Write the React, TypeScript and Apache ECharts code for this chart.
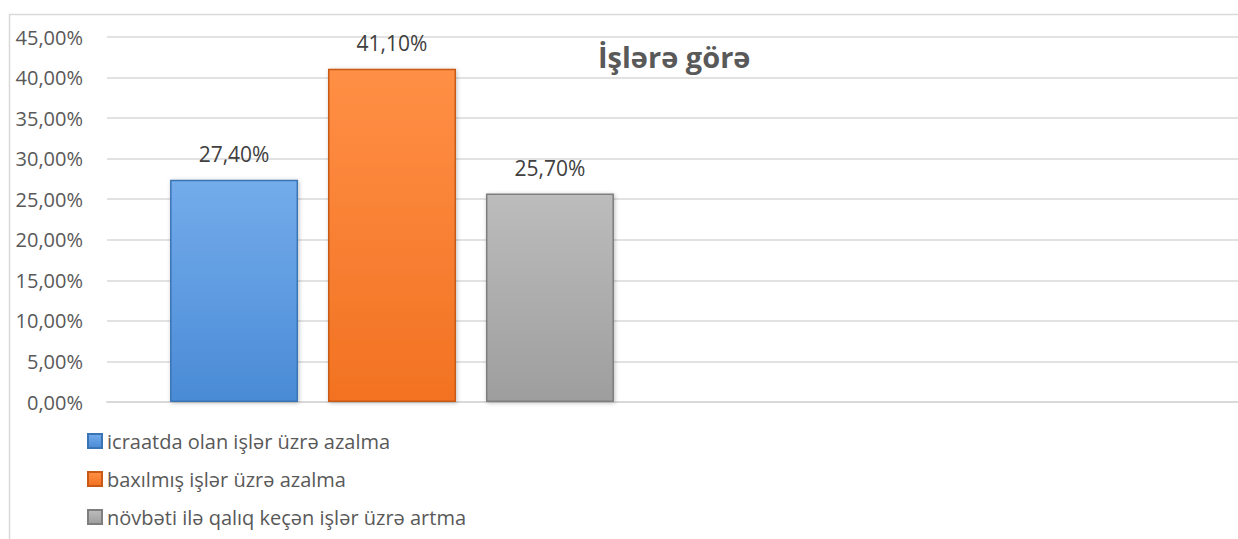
import React, { useEffect, useRef } from "react";
import * as echarts from "echarts";

const categories = ["", ""];
const seriesNames = [
  "icraatda olan işlər üzrə azalma",
  "baxılmış işlər üzrə azalma",
  "növbəti ilə qalıq keçən işlər üzrə artma",
];
const seriesValues = [27.4, 41.1, 25.7];
const yTicks = { min: 0, max: 45, interval: 5 };
const title = "İşlərə görə";

const palettes = [
  { top: "#74aceb", bottom: "#4a8bd6", border: "#3b74b4" },
  { top: "#ff8f45", bottom: "#f27222", border: "#c95a15" },
  { top: "#bcbcbc", bottom: "#9e9e9e", border: "#7e7e7e" },
];

const fmt = (v: number) => v.toFixed(2).replace(".", ",") + "%";

export default function App() {
  const ref = useRef<HTMLDivElement>(null);
  useEffect(() => {
    document.body.style.margin = "0";
    document.body.style.overflow = "hidden";
    const chart = echarts.init(ref.current!, null, { renderer: "svg" });
    const font = "'Open Sans', sans-serif";
    chart.setOption({
      animation: false,
      backgroundColor: "#ffffff",
      title: {
        text: title,
        left: 593,
        top: 37,
        textStyle: { fontFamily: font, fontSize: 29, fontWeight: "bold", color: "#595959" },
      },
      graphic: [
        {
          type: "polyline",
          shape: { points: [[9.5, 545], [9.5, 14.5], [1260, 14.5]] },
          style: { stroke: "#d9d9d9", lineWidth: 1.5, fill: null },
          silent: true,
        },
      ],
      legend: {
        orient: "vertical",
        left: 87,
        top: 431,
        padding: 0,
        itemWidth: 14,
        itemHeight: 14,
        itemGap: 18,
        icon: "rect",
        textStyle: { fontFamily: font, fontSize: 20, color: "#595959" },
        data: seriesNames,
      },
      grid: { left: 107, top: 37, width: 1140, height: 365 },
      xAxis: {
        type: "category",
        data: categories,
        axisLine: { lineStyle: { color: "#d9d9d9", width: 2 } },
        axisTick: { show: false },
        axisLabel: { show: false },
      },
      yAxis: {
        type: "value",
        min: yTicks.min,
        max: yTicks.max,
        interval: yTicks.interval,
        axisLine: { show: false },
        axisTick: { show: false },
        axisLabel: {
          formatter: (v: number) => fmt(v),
          fontFamily: font,
          fontSize: 20,
          color: "#595959",
          margin: 24,
        },
        splitLine: { lineStyle: { color: "#d9d9d9", width: 1.5 } },
      },
      series: seriesNames.map((name, i) => ({
        name,
        type: "bar",
        barWidth: 128,
        barGap: "23.4%",
        data: [seriesValues[i], null],
        itemStyle: {
          color: new echarts.graphic.LinearGradient(0, 0, 0, 1, [
            { offset: 0, color: palettes[i].top },
            { offset: 1, color: palettes[i].bottom },
          ]),
          borderColor: palettes[i].border,
          borderWidth: 1.5,
          shadowColor: "rgba(0,0,0,0.25)",
          shadowBlur: 4,
          shadowOffsetX: 1,
          shadowOffsetY: 1,
        },
        label: {
          show: true,
          position: "top",
          distance: 15,
          formatter: (p: any) => fmt(p.value),
          fontFamily: font,
          fontSize: 21,
          color: "#404040",
        },
      })),
    });
    return () => chart.dispose();
  }, []);
  return <div ref={ref} style={{ width: 1250, height: 539 }} />;
}
